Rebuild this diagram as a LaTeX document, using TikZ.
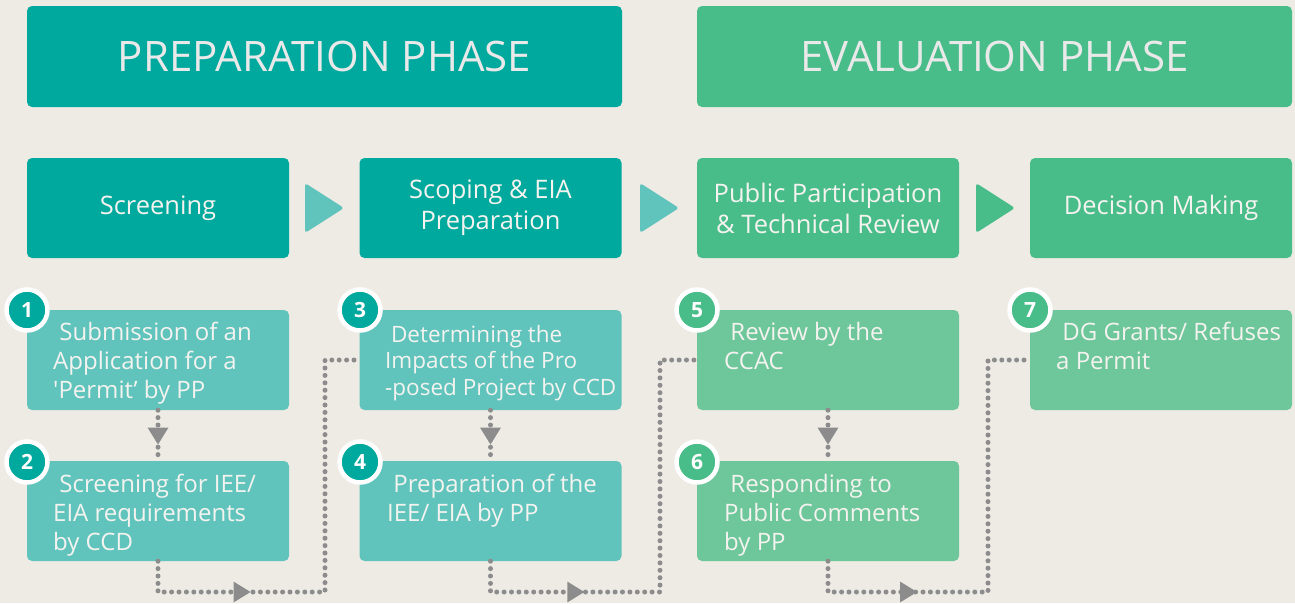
\documentclass[tikz,border=0pt]{standalone}
\usepackage{fontspec}
\setmainfont{Open Sans}
\usetikzlibrary{decorations.markings}
\definecolor{bg}{HTML}{EEEBE5}
\definecolor{prepdark}{HTML}{00A99D}
\definecolor{evaldark}{HTML}{48BD89}
\definecolor{preplight}{HTML}{60C4BD}
\definecolor{evallight}{HTML}{6EC69B}
\definecolor{dotgrey}{HTML}{8C8C8C}
\definecolor{txt}{HTML}{F4F3EF}
\definecolor{hdrtxt}{HTML}{E9E9E9}
\newcommand{\topstrut}{\rule{0pt}{22pt}}
\begin{document}
\begin{tikzpicture}[x=1pt,y=-1pt,
  box/.style={rounded corners=5pt, inner sep=0pt, minimum width=262pt, minimum height=100pt},
  hdr/.style={box, minimum width=595pt, minimum height=101pt, text=hdrtxt, font=\fontsize{42}{48}\selectfont},
  phase/.style={box, text=txt, align=center, font=\fontsize{25.5}{31}\selectfont},
  stepbox/.style={box},
  steptext/.style={anchor=north west, inner sep=0pt, align=left, text=txt, font=\fontsize{24}{29}\selectfont},
  numc/.style={circle, draw=white, line width=4.5pt, minimum size=41pt, inner sep=0pt, text=white, font=\bfseries\fontsize{21}{21}\selectfont},
  dotline/.style={draw=dotgrey, line width=5pt, dash pattern=on 0pt off 7.4pt, line cap=round},
  tipmark/.style={decoration={markings, mark=at position 0.5 with {\fill[dotgrey] (-8,-10.5) -- (9,0) -- (-8,10.5) -- cycle;}}, postaction={decorate}},
  playtri/.style={rounded corners=3pt}
]
\fill[bg] (0,0) rectangle (1295,603);
\useasboundingbox (0,0) rectangle (1295,603);

% headers
\node[hdr, fill=prepdark] (hp) at (324.5,56.5) {PREPARATION PHASE};
\node[hdr, fill=evaldark] (he) at (994.5,56.5) {EVALUATION PHASE};

% phase boxes
\node[phase, fill=prepdark] (p1) at (158,208) {Screening};
\node[phase, fill=prepdark] (p2) at (490.5,208) {Scoping \& EIA\\Preparation};
\node[phase, fill=evaldark] (p3) at (828,208) {Public Participation\\\& Technical Review};
\node[phase, fill=evaldark] (p4) at (1161,208) {Decision Making};

% play triangles
\fill[preplight, playtri] (305,183) -- (344,208) -- (305,233) -- cycle;
\fill[preplight, playtri] (640,183) -- (679,208) -- (640,233) -- cycle;
\fill[evaldark, playtri] (976,183) -- (1015,208) -- (976,233) -- cycle;

% step boxes
\node[stepbox, fill=preplight] (b1) at (158,360) {};
\node[stepbox, fill=preplight] (b2) at (158,511) {};
\node[stepbox, fill=preplight] (b3) at (490.5,360) {};
\node[stepbox, fill=preplight] (b4) at (490.5,511) {};
\node[stepbox, fill=evallight] (b5) at (828,360) {};
\node[stepbox, fill=evallight] (b6) at (828,511) {};
\node[stepbox, fill=evallight] (b7) at (1161,360) {};

% step texts (first baseline = y + 22)
\node[steptext] (t1) at (53,318) {\topstrut\ Submission of an\\Application for a\\\textquotesingle Permit’ by PP};
\node[steptext] (t2) at (53,470) {\topstrut\ Screening for IEE/\\EIA requirements\\by CCD};
\node[steptext, font=\fontsize{22.5}{26.5}\selectfont] (t3) at (385,320) {\topstrut\ Determining the\\Impacts of the Pro\\-posed Project by CCD};
\node[steptext] (t4) at (387,470) {\topstrut\ Preparation of the\\IEE/ EIA by PP};
\node[steptext] (t5) at (724,318) {\topstrut\ Review by the\\CCAC};
\node[steptext] (t6) at (724,470) {\topstrut\ Responding to\\Public Comments\\by PP};
\node[steptext] (t7) at (1056,318) {\topstrut\ DG Grants/ Refuses\\a Permit};

% connectors
\coordinate (c1a) at (158,592);
\coordinate (c1b) at (325,592);
\coordinate (c1c) at (325,360);
\coordinate (c2a) at (490.5,592);
\coordinate (c2b) at (660,592);
\coordinate (c2c) at (660,360);
\coordinate (c3a) at (828,592);
\coordinate (c3b) at (988,592);
\coordinate (c3c) at (988,360);

\draw[dotline] (b1.south) -- (b2.north);
\path[tipmark] (b1.south) -- (b2.north);
\draw[dotline] (b3.south) -- (b4.north);
\path[tipmark] (b3.south) -- (b4.north);
\draw[dotline] (b5.south) -- (b6.north);
\path[tipmark] (b5.south) -- (b6.north);

\draw[dotline] (b2.south) -- (c1a) -- (c1b) -- (c1c) -- (b3.west);
\path[tipmark] (c1a) -- (c1b);
\draw[dotline] (b4.south) -- (c2a) -- (c2b) -- (c2c) -- (b5.west);
\path[tipmark] (c2a) -- (c2b);
\draw[dotline] (b6.south) -- (c3a) -- (c3b) -- (c3c) -- (b7.west);
\path[tipmark] (c3a) -- (c3b);

% number circles
\node[numc, fill=prepdark] (n1) at (27,310) {1};
\node[numc, fill=prepdark] (n2) at (27,462) {2};
\node[numc, fill=prepdark] (n3) at (360,310) {3};
\node[numc, fill=prepdark] (n4) at (360,462) {4};
\node[numc, fill=evaldark] (n5) at (697,310) {5};
\node[numc, fill=evaldark] (n6) at (697,462) {6};
\node[numc, fill=evaldark] (n7) at (1030,310) {7};
\end{tikzpicture}
\end{document}
